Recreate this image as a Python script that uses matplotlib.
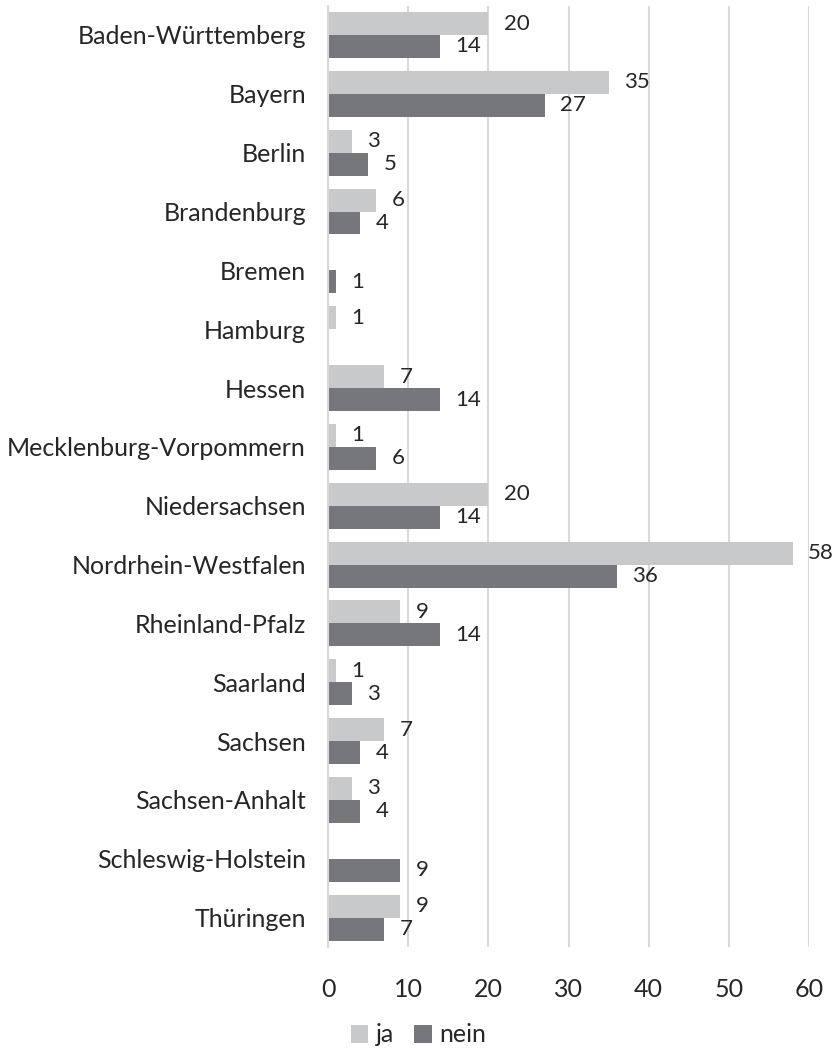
import numpy as np
import matplotlib.pyplot as plt

plt.rcParams['font.family'] = ['Lato', 'DejaVu Sans']

laender = ['Baden-Württemberg', 'Bayern', 'Berlin', 'Brandenburg', 'Bremen', 'Hamburg',
           'Hessen', 'Mecklenburg-Vorpommern', 'Niedersachsen', 'Nordrhein-Westfalen',
           'Rheinland-Pfalz', 'Saarland', 'Sachsen', 'Sachsen-Anhalt',
           'Schleswig-Holstein', 'Thüringen']
ja = [20, 35, 3, 6, 0, 1, 7, 1, 20, 58, 9, 1, 7, 3, 0, 9]
nein = [14, 27, 5, 4, 1, 0, 14, 6, 14, 36, 14, 3, 4, 4, 9, 7]

c_ja = '#c8c9cb'
c_nein = '#76777b'
h = 0.39

fig = plt.figure(figsize=(8.37, 10.49), dpi=100)
ax = fig.add_axes([0.392, 0.0972, 0.9666 - 0.392, 0.9947 - 0.0972])

y = np.arange(len(laender))
b1 = ax.barh(y - h / 2, ja, height=h, color=c_ja, label='ja')
b2 = ax.barh(y + h / 2, nein, height=h, color=c_nein, label='nein')

for bars, vals in [(b1, ja), (b2, nein)]:
    for b, v in zip(bars, vals):
        if v == 0:
            continue
        ax.annotate(str(v), (v, b.get_y() + b.get_height() / 2), xytext=(11, 0),
                    textcoords='offset points', va='center', ha='left',
                    fontsize=16, color='#262626')

ax.set_xlim(0, 60)
ax.set_ylim(15.5, -0.5)
ax.set_xticks(range(0, 61, 10))
ax.set_yticks(y)
ax.set_yticklabels(laender)
ax.tick_params(axis='y', length=0, pad=16, labelsize=18, labelcolor='#262626')
ax.tick_params(axis='x', length=0, pad=22, labelsize=18, labelcolor='#262626')
ax.grid(axis='x', color='#d9d9d9', linewidth=1.5)
ax.set_axisbelow(True)
for s in ['top', 'right', 'bottom']:
    ax.spines[s].set_visible(False)
ax.spines['left'].set_color('#d9d9d9')
ax.spines['left'].set_linewidth(1.5)

fig.legend(handles=[b1, b2], labels=['ja', 'nein'], loc='center', ncol=2,
           bbox_to_anchor=(0.5, 1 - 1035 / 1049), frameon=False, fontsize=18,
           handlelength=0.7, handleheight=0.7, handletextpad=0.3, columnspacing=0.8,
           labelcolor='#262626')

fig.savefig('out.png', dpi=100)
